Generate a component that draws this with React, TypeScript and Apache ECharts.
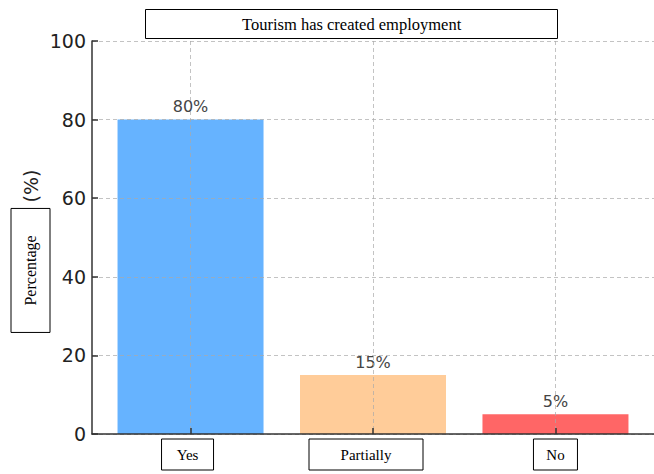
import React, { useEffect, useRef } from "react";
import * as echarts from "echarts";

const categories = ["Yes", "Partially", "No"];
const values = [80, 15, 5];
const barColors = ["#66b3ff", "#ffcc99", "#ff6666"];
const yTicks = [0, 20, 40, 60, 80, 100];
const titleText = "Tourism has created employment";
const yLabelMain = "Percentage";
const yLabelUnit = "(%)";

const labelBoxWidths = [52, 114, 44];
const labelShift = [6, 14, 0];

export default function App() {
  const ref = useRef<HTMLDivElement>(null);
  useEffect(() => {
    if (!ref.current) return;
    const chart = echarts.init(ref.current, null, { renderer: "svg" });
    const rich: Record<string, any> = {};
    categories.forEach((_, i) => {
      rich["c" + i] = {
        width: labelBoxWidths[i],
        height: 31,
        lineHeight: 31,
        align: "center",
        fontFamily: "Liberation Serif",
        fontSize: 15,
        color: "#000",
        borderColor: "#000",
        borderWidth: 1,
      };
      rich["s" + i] = { width: labelShift[i], height: 31 };
    });
    const gridLine = {
      show: true,
      lineStyle: { color: "rgba(170,170,170,0.7)", type: [4, 3], width: 1 },
    };
    chart.setOption({
      animation: false,
      title: {
        text: titleText,
        left: 145,
        top: 9,
        padding: [5, 97],
        borderColor: "#000",
        borderWidth: 1,
        textStyle: {
          fontFamily: "Liberation Serif",
          fontSize: 16.5,
          fontWeight: "normal",
          color: "#000",
          lineHeight: 20,
        },
      },
      grid: {
        left: 92,
        right: 0,
        top: 41,
        bottom: 40,
        containLabel: false,
        outerBoundsMode: "none",
      },
      xAxis: {
        type: "value",
        min: -0.54,
        max: 2.54,
        z: 5,
        axisLine: { show: true, onZero: false, lineStyle: { color: "#333", width: 1.5 } },
        axisTick: {
          show: true,
          inside: true,
          length: 6,
          customValues: [0, 1, 2],
          lineStyle: { color: "#333", width: 1.5 },
        },
        axisLabel: {
          show: true,
          customValues: [0, 1, 2],
          margin: 5,
          formatter: (v: number) => {
            const i = Math.round(v);
            return labelShift[i]
              ? `{c${i}|${categories[i]}}{s${i}|}`
              : `{c${i}|${categories[i]}}`;
          },
          rich,
        },
        splitLine: gridLine,
      },
      yAxis: {
        type: "value",
        min: 0,
        max: 100,
        interval: 20,
        z: 5,
        axisLine: { show: true, onZero: false, lineStyle: { color: "#333", width: 1.5 } },
        axisTick: {
          show: true,
          inside: true,
          length: 6,
          lineStyle: { color: "#333", width: 1.5 },
        },
        axisLabel: {
          margin: 6,
          fontFamily: "DejaVu Sans",
          fontSize: 19,
          color: "#222",
          formatter: (v: number) => (yTicks.includes(v) ? String(v) : ""),
        },
        splitLine: gridLine,
        name: `{p|${yLabelMain}}{u|${yLabelUnit}}`,
        nameLocation: "middle",
        nameRotate: 90,
        nameGap: 42,
        nameMoveOverlap: false,
        nameTextStyle: {
          padding: [0, 27, 0, 0],
          rich: {
            p: {
              fontFamily: "Liberation Serif",
              fontSize: 16,
              color: "#000",
              width: 124,
              height: 39,
              lineHeight: 39,
              align: "center",
              borderColor: "#000",
              borderWidth: 1,
            },
            u: {
              fontFamily: "DejaVu Sans",
              fontSize: 19,
              color: "#222",
              padding: [0, 0, 0, 6],
            },
          },
        },
      },
      series: [
        {
          type: "bar",
          barWidth: 146,
          data: values.map((v, i) => ({
            value: [i, v],
            itemStyle: { color: barColors[i] },
          })),
          label: {
            show: true,
            position: "top",
            distance: 5,
            fontFamily: "DejaVu Sans",
            fontSize: 16,
            color: "#444",
            formatter: (p: any) => `${p.value[1]}%`,
          },
        },
      ],
    });
    return () => chart.dispose();
  }, []);
  return (
    <div
      ref={ref}
      style={{ position: "absolute", left: 0, top: 0, width: 654, height: 474 }}
    />
  );
}
